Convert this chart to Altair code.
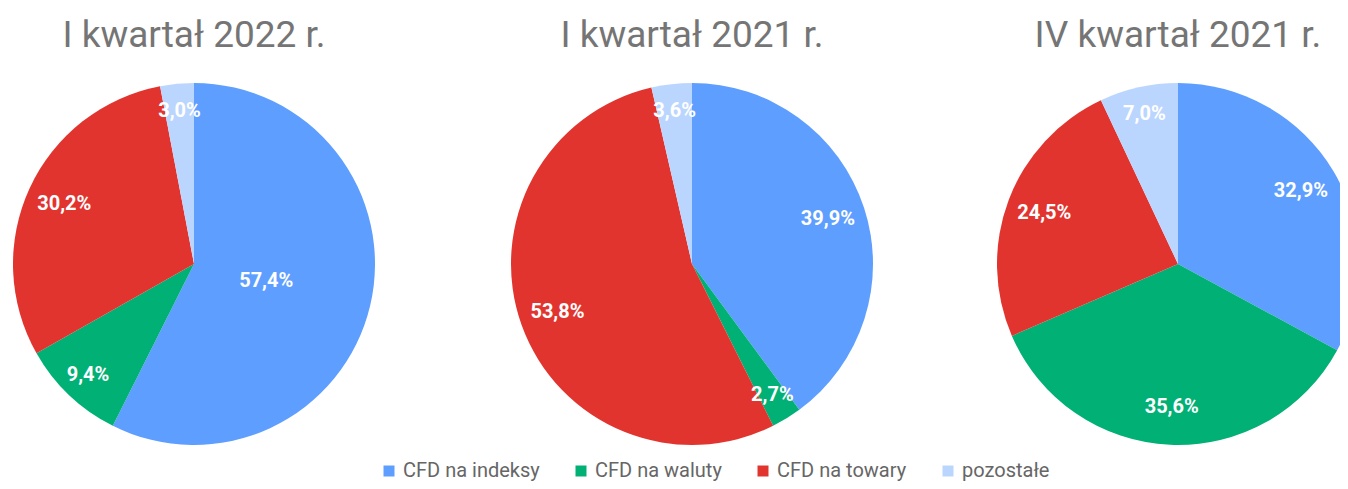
import altair as alt
import pandas as pd

quarters = ["I kwartał 2022 r.", "I kwartał 2021 r.", "IV kwartał 2021 r."]
categories = ["CFD na indeksy", "CFD na waluty", "CFD na towary", "pozostałe"]
q1_2022 = [57.4, 9.4, 30.2, 3.0]
q1_2021 = [39.9, 2.7, 53.8, 3.6]
q4_2021 = [32.9, 35.6, 24.5, 7.0]
colors = ["#5E9EFF", "#00B074", "#E2342F", "#BBD6FE"]

rows = []
for qi, (q, vals) in enumerate(zip(quarters, [q1_2022, q1_2021, q4_2021])):
    for ci, (c, v) in enumerate(zip(categories, vals)):
        rows.append(dict(quarter=q, qi=qi, category=c, ci=ci, value=v))
df = pd.DataFrame(rows)
tdf = pd.DataFrame({"quarter": quarters, "qi": list(range(len(quarters)))})

R = 181
xscale = alt.Scale(domain=[0, 1, 2], range=[186, 684, 1170])
theta_scale = alt.Scale(domain=[0, 100], range=[0, 6.283185307])


def xenc():
    return alt.X("qi:Q", scale=xscale, axis=None, stack=None)


base = alt.Chart(df).transform_window(
    cum="sum(value)", groupby=["quarter"], sort=[alt.SortField("ci", order="ascending")], frame=[None, 0]
).transform_calculate(
    start="datum.cum - datum.value",
    mid="datum.cum - datum.value / 2",
    label="replace(format(datum.value, '.1f'), '.', ',') + '%'",
)

arcs = base.mark_arc(radius=R).encode(
    x=xenc(),
    y=alt.value(256),
    theta=alt.Theta("start:Q", stack=None, scale=theta_scale),
    theta2="cum:Q",
    color=alt.Color(
        "category:N",
        scale=alt.Scale(domain=categories, range=colors),
        legend=alt.Legend(
            title=None, orient="none", legendX=371, legendY=453, direction="horizontal",
            symbolType="square", symbolSize=121, symbolStrokeWidth=0,
            labelFontSize=20, labelFont="Roboto", labelColor="#666666",
            columnPadding=31, labelOffset=4,
        ),
    ),
)

labels = base.transform_calculate(
    lr=f"datum.value >= 55 ? {R} * 0.41 : (datum.value < 10 ? {R} * 0.85 : {R} * 0.79)"
).mark_text(
    font="Roboto", fontSize=20, fontWeight="bold", color="white", align="center", baseline="middle"
).encode(
    x=xenc(),
    y=alt.value(256),
    theta=alt.Theta("mid:Q", stack=None, scale=theta_scale),
    radius=alt.Radius("lr:Q", scale=None),
    text="label:N",
)

titles = alt.Chart(tdf).mark_text(
    font="Roboto", fontSize=37, color="#757575", align="center", baseline="alphabetic"
).encode(
    x=xenc(),
    y=alt.value(39),
    text="quarter:N",
)

chart = alt.layer(arcs, labels, titles).properties(
    width=1332, height=473, autosize=alt.AutoSizeParams(type="none"), padding=0
).configure_view(stroke=None)

chart.save("out.html", embed_options={"renderer": "svg", "actions": False})
